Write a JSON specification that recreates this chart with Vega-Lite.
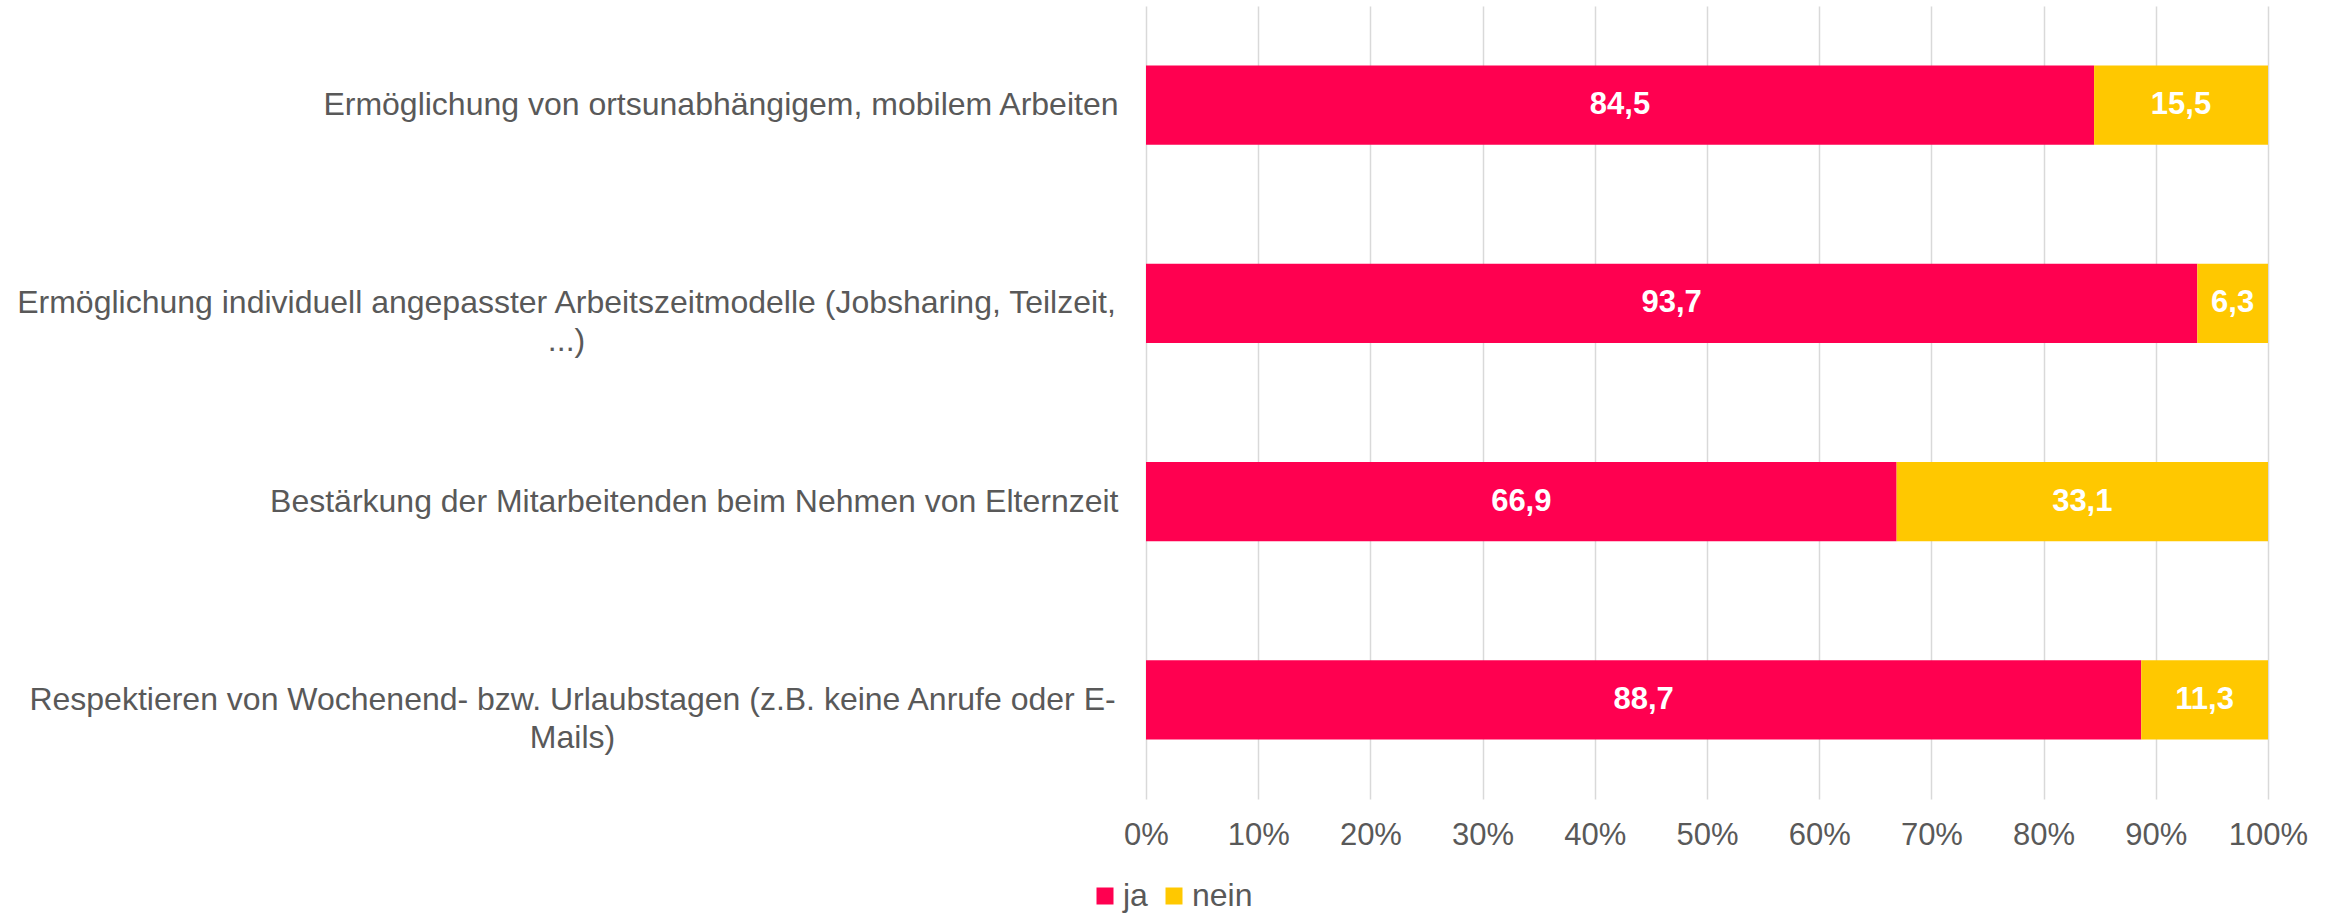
{
  "$schema": "https://vega.github.io/schema/vega-lite/v6.json",
  "width": 1122,
  "height": 793,
  "autosize": {"type": "none"},
  "padding": {"left": 1146, "top": 6, "right": 70, "bottom": 114},
  "config": {
    "locale": {"number": {"decimal": ",", "thousands": ".", "grouping": [3], "currency": ["", " €"]}},
    "view": {"stroke": null},
    "font": "Liberation Sans"
  },
  "data": {
    "values": [
      {"item": "Ermöglichung von ortsunabhängigem, mobilem Arbeiten", "answer": "ja", "value": 84.5},
      {"item": "Ermöglichung von ortsunabhängigem, mobilem Arbeiten", "answer": "nein", "value": 15.5},
      {"item": "Ermöglichung individuell angepasster Arbeitszeitmodelle (Jobsharing, Teilzeit, ...)", "answer": "ja", "value": 93.7},
      {"item": "Ermöglichung individuell angepasster Arbeitszeitmodelle (Jobsharing, Teilzeit, ...)", "answer": "nein", "value": 6.3},
      {"item": "Bestärkung der Mitarbeitenden beim Nehmen von Elternzeit", "answer": "ja", "value": 66.9},
      {"item": "Bestärkung der Mitarbeitenden beim Nehmen von Elternzeit", "answer": "nein", "value": 33.1},
      {"item": "Respektieren von Wochenend- bzw. Urlaubstagen (z.B. keine Anrufe oder E-Mails)", "answer": "ja", "value": 88.7},
      {"item": "Respektieren von Wochenend- bzw. Urlaubstagen (z.B. keine Anrufe oder E-Mails)", "answer": "nein", "value": 11.3}
    ]
  },
  "encoding": {
    "y": {
      "field": "item",
      "type": "nominal",
      "sort": null,
      "scale": {"paddingInner": 0.6, "paddingOuter": 0.3},
      "axis": {
        "title": null,
        "domain": false,
        "ticks": false,
        "tickSize": 0,
        "grid": false,
        "labelFont": "Liberation Sans",
        "labelFontSize": 32,
        "labelColor": "#595959",
        "labelLimit": 1200,
        "labelLineHeight": 38,
        "labelExpr": "split(replace(replace(datum.label, 'Teilzeit, ', 'Teilzeit,|'), 'E-Mails', 'E-|Mails'), '|')",
        "labelAlign": {"condition": {"test": "indexof(datum.value, 'Teilzeit') >= 0 || indexof(datum.value, 'E-Mails') >= 0", "value": "center"}, "value": "right"},
        "labelPadding": {"condition": [
          {"test": "indexof(datum.value, 'Teilzeit') >= 0", "value": 580},
          {"test": "indexof(datum.value, 'E-Mails') >= 0", "value": 574}
        ], "value": 28}
      }
    },
    "x": {
      "field": "value",
      "type": "quantitative",
      "stack": "zero",
      "scale": {"domain": [0, 100]},
      "axis": {
        "title": null,
        "values": [0, 10, 20, 30, 40, 50, 60, 70, 80, 90, 100],
        "labelExpr": "datum.value + '%'",
        "grid": true,
        "gridColor": "#D9D9D9",
        "gridWidth": 1.5,
        "domain": false,
        "ticks": false,
        "tickSize": 0,
        "labelFlush": false,
        "labelFont": "Liberation Sans",
        "labelFontSize": 31,
        "labelColor": "#595959",
        "labelPadding": 21
      }
    },
    "order": {"field": "answer", "sort": "ascending"}
  },
  "layer": [
    {
      "mark": {"type": "bar"},
      "encoding": {
        "color": {
          "field": "answer",
          "type": "nominal",
          "scale": {"domain": ["ja", "nein"], "range": ["#FF0050", "#FFC800"]},
          "legend": {
            "orient": "none",
            "legendX": -57,
            "legendY": 874,
            "direction": "horizontal",
            "title": null,
            "symbolType": "square",
            "symbolSize": 289,
            "symbolStrokeWidth": 0,
            "labelFont": "Liberation Sans",
            "labelFontSize": 32,
            "labelColor": "#595959",
            "labelOffset": 2,
            "columnPadding": 10
          }
        }
      }
    },
    {
      "mark": {"type": "text", "color": "white", "fontSize": 31, "fontWeight": "bold", "font": "Liberation Sans"},
      "encoding": {
        "x": {"field": "value", "type": "quantitative", "stack": "zero", "bandPosition": 0.5},
        "detail": {"field": "answer"},
        "text": {"field": "value", "type": "quantitative", "format": ".1f"}
      }
    }
  ]
}
